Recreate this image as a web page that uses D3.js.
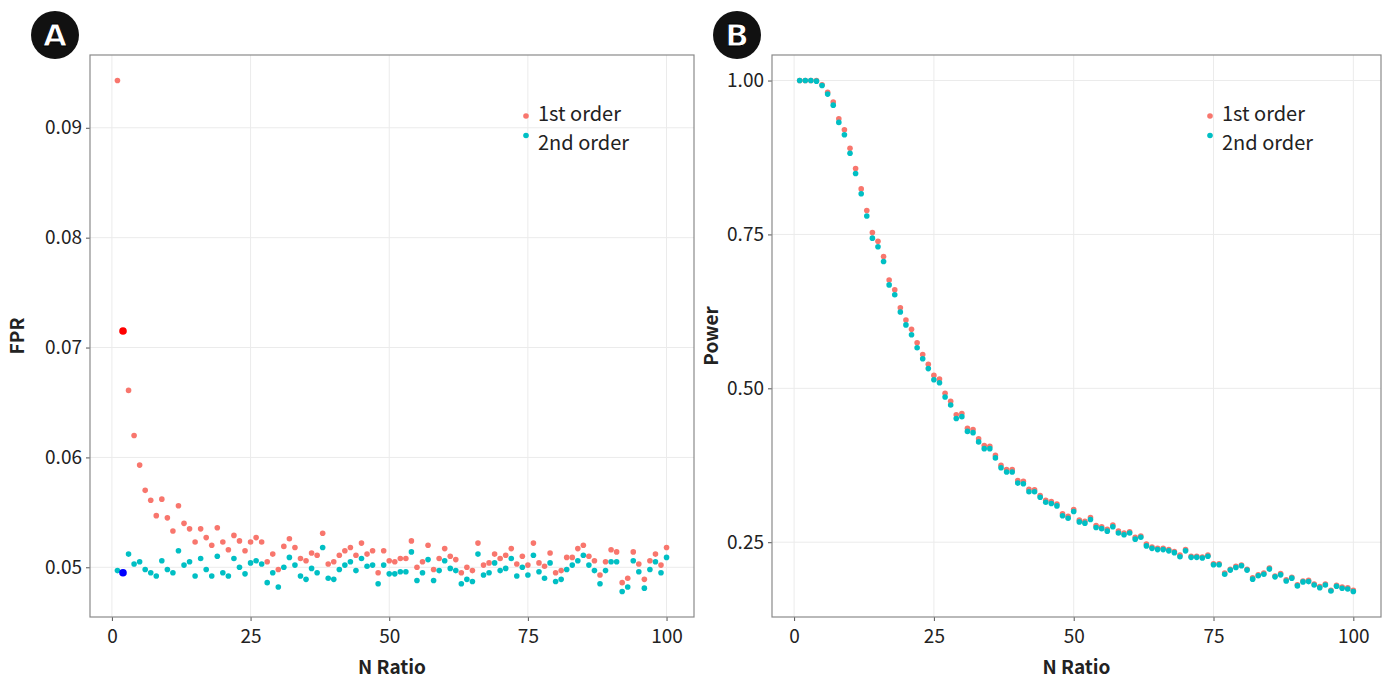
<html>
<head>
  <script src="https://d3js.org/d3.v7.min.js"></script>
  <style>
    body { margin: 0; background: #fff; }
    text { font-family: "Noto Sans CJK KR", "Noto Sans", sans-serif; }
    .grid line { stroke: #ebebeb; stroke-width: 1; }
    .axis path { display: none; }
    .axis line { stroke: #555; }
    .axis text { fill: #222; font-size: 19px; }
    .title { font-size: 19px; font-weight: 700; fill: #222; }
    .legend { font-size: 20px; fill: #222; }
  </style>
</head>
<body>
  <svg id="chart" width="1386" height="681"></svg>
  <script>
    const ratio = d3.range(1, 101);

    const fprFirst = [0.0943, 0.0715, 0.0661, 0.0620, 0.0593, 0.0570, 0.0561, 0.0547, 0.0562, 0.0545,
      0.0533, 0.0556, 0.0540, 0.0535, 0.0523, 0.0535, 0.0527, 0.0520, 0.0536, 0.0523,
      0.0516, 0.0529, 0.0524, 0.0515, 0.0523, 0.0527, 0.0523, 0.0505, 0.0512, 0.0498,
      0.0519, 0.0526, 0.0518, 0.0508, 0.0506, 0.0513, 0.0511, 0.0531, 0.0503, 0.0505,
      0.0511, 0.0515, 0.0518, 0.0511, 0.0522, 0.0512, 0.0515, 0.0495, 0.0515, 0.0506,
      0.0505, 0.0508, 0.0508, 0.0524, 0.0500, 0.0505, 0.0520, 0.0498, 0.0508, 0.0517,
      0.0510, 0.0507, 0.0495, 0.0500, 0.0497, 0.0522, 0.0502, 0.0504, 0.0512, 0.0508,
      0.0511, 0.0517, 0.0503, 0.0510, 0.0502, 0.0522, 0.0504, 0.0501, 0.0513, 0.0495,
      0.0497, 0.0509, 0.0509, 0.0517, 0.0520, 0.0510, 0.0506, 0.0493, 0.0505, 0.0516,
      0.0514, 0.0486, 0.0490, 0.0514, 0.0503, 0.0489, 0.0506, 0.0512, 0.0502, 0.0518];

    const fprSecond = [0.0497, 0.0495, 0.0512, 0.0503, 0.0505, 0.0498, 0.0495, 0.0492, 0.0506, 0.0498,
      0.0495, 0.0515, 0.0502, 0.0505, 0.0492, 0.0508, 0.0498, 0.0492, 0.0510, 0.0495,
      0.0492, 0.0508, 0.0500, 0.0494, 0.0504, 0.0506, 0.0503, 0.0486, 0.0495, 0.0482,
      0.0500, 0.0509, 0.0502, 0.0492, 0.0489, 0.0499, 0.0495, 0.0518, 0.0490, 0.0489,
      0.0498, 0.0502, 0.0505, 0.0497, 0.0508, 0.0501, 0.0502, 0.0485, 0.0502, 0.0494,
      0.0494, 0.0496, 0.0496, 0.0514, 0.0488, 0.0495, 0.0507, 0.0488, 0.0497, 0.0506,
      0.0499, 0.0497, 0.0485, 0.0489, 0.0487, 0.0512, 0.0493, 0.0495, 0.0504, 0.0497,
      0.0499, 0.0508, 0.0492, 0.0500, 0.0493, 0.0511, 0.0496, 0.0490, 0.0504, 0.0487,
      0.0489, 0.0498, 0.0502, 0.0506, 0.0511, 0.0502, 0.0497, 0.0485, 0.0497, 0.0505,
      0.0505, 0.0478, 0.0482, 0.0506, 0.0496, 0.0481, 0.0498, 0.0505, 0.0495, 0.0509];

    const powerFirst = [1.000, 1.000, 1.000, 1.000, 0.993, 0.981, 0.965, 0.938, 0.920, 0.890,
      0.857, 0.824, 0.789, 0.753, 0.739, 0.714, 0.676, 0.660, 0.631, 0.611,
      0.596, 0.574, 0.555, 0.539, 0.521, 0.515, 0.492, 0.479, 0.457, 0.459,
      0.435, 0.433, 0.418, 0.407, 0.406, 0.391, 0.375, 0.368, 0.368, 0.350,
      0.349, 0.336, 0.335, 0.326, 0.318, 0.316, 0.312, 0.296, 0.292, 0.303,
      0.286, 0.284, 0.290, 0.277, 0.275, 0.271, 0.278, 0.268, 0.265, 0.267,
      0.258, 0.260, 0.247, 0.242, 0.240, 0.240, 0.238, 0.235, 0.229, 0.238,
      0.227, 0.227, 0.226, 0.229, 0.215, 0.215, 0.200, 0.206, 0.211, 0.213,
      0.206, 0.192, 0.197, 0.200, 0.208, 0.195, 0.199, 0.189, 0.193, 0.181,
      0.187, 0.188, 0.182, 0.178, 0.182, 0.172, 0.180, 0.177, 0.176, 0.172];

    const powerSecond = [1.000, 1.000, 1.000, 0.999, 0.992, 0.978, 0.960, 0.932, 0.912, 0.882,
      0.849, 0.816, 0.780, 0.744, 0.730, 0.706, 0.668, 0.652, 0.624, 0.603,
      0.587, 0.566, 0.548, 0.532, 0.514, 0.509, 0.486, 0.473, 0.451, 0.454,
      0.430, 0.428, 0.413, 0.402, 0.402, 0.387, 0.371, 0.364, 0.364, 0.346,
      0.345, 0.332, 0.332, 0.323, 0.315, 0.313, 0.309, 0.293, 0.289, 0.300,
      0.283, 0.281, 0.287, 0.274, 0.272, 0.268, 0.275, 0.265, 0.262, 0.265,
      0.255, 0.258, 0.244, 0.240, 0.238, 0.238, 0.236, 0.233, 0.2265, 0.236,
      0.2254, 0.2254, 0.2244, 0.2271, 0.2134, 0.2134, 0.198, 0.2047, 0.209, 0.2118,
      0.2047, 0.190, 0.1955, 0.198, 0.2063, 0.1937, 0.197, 0.187, 0.1916, 0.179,
      0.1855, 0.186, 0.1806, 0.176, 0.1806, 0.1707, 0.1784, 0.1751, 0.174, 0.170];

    // highlighted points on panel A (ratio 2)
    const highlight = [
      { x: 2, y: 0.0715, color: "#ff0000" },
      { x: 2, y: 0.0495, color: "#0000ff" }
    ];

    const seriesNames = ["1st order", "2nd order"];
    const seriesColors = ["#F8766D", "#00BFC4"];
    const xTicks = [0, 25, 50, 75, 100];
    const fprTicks = [0.05, 0.06, 0.07, 0.08, 0.09];
    const powerTicks = [0.25, 0.50, 0.75, 1.00];

    const svg = d3.select("svg#chart");

    // ggplot style 5% padding
    function padded(vals) {
      const e = d3.extent(vals);
      const p = (e[1] - e[0]) * 0.05;
      return [e[0] - p, e[1] + p];
    }

    function panel(opt) {
      const g = svg.append("g");
      const x = d3.scaleLinear().domain(padded(ratio)).range([opt.left, opt.right]);
      const y = d3.scaleLinear().domain(padded(opt.first.concat(opt.second))).range([opt.bottom, opt.top]);

      const grid = g.append("g").attr("class", "grid");
      grid.selectAll(".gx").data(xTicks).join("line")
        .attr("x1", d => x(d)).attr("x2", d => x(d))
        .attr("y1", opt.top).attr("y2", opt.bottom);
      grid.selectAll(".gy").data(opt.yTicks).join("line")
        .attr("class", "gy")
        .attr("x1", opt.left).attr("x2", opt.right)
        .attr("y1", d => y(d)).attr("y2", d => y(d));

      g.append("g").attr("class", "axis")
        .attr("transform", "translate(0," + opt.bottom + ")")
        .call(d3.axisBottom(x).tickValues(xTicks).tickSize(4).tickPadding(5).tickFormat(d3.format("d")))
        .selectAll("text").attr("dy", "0.9em");

      g.append("g").attr("class", "axis")
        .attr("transform", "translate(" + opt.left + ",0)")
        .call(d3.axisLeft(y).tickValues(opt.yTicks).tickSize(4).tickPadding(4).tickFormat(d3.format(".2f")));

      [opt.first, opt.second].forEach((vals, i) => {
        g.append("g").selectAll("circle")
          .data(ratio)
          .join("circle")
          .attr("cx", d => x(d))
          .attr("cy", (d, j) => y(vals[j]))
          .attr("r", 2.8)
          .attr("fill", seriesColors[i]);
      });

      if (opt.extra) {
        g.append("g").selectAll("circle")
          .data(opt.extra)
          .join("circle")
          .attr("cx", d => x(d.x))
          .attr("cy", d => y(d.y))
          .attr("r", 3.8)
          .attr("fill", d => d.color);
      }

      g.append("rect")
        .attr("x", opt.left).attr("y", opt.top)
        .attr("width", opt.right - opt.left).attr("height", opt.bottom - opt.top)
        .attr("fill", "none").attr("stroke", "#8a8a8a").attr("stroke-width", 1.2);

      g.append("text").attr("class", "title")
        .attr("x", (opt.left + opt.right) / 2).attr("y", 674)
        .attr("text-anchor", "middle").text("N Ratio");

      g.append("text").attr("class", "title")
        .attr("transform", "translate(" + opt.yTitleX + "," + ((opt.top + opt.bottom) / 2) + ") rotate(-90)")
        .attr("text-anchor", "middle").text(opt.yTitle);

      // legend
      const leg = g.append("g");
      leg.selectAll("circle").data(seriesNames).join("circle")
        .attr("cx", opt.legX).attr("cy", (d, i) => 116 + i * 19.5)
        .attr("r", 2.8).attr("fill", (d, i) => seriesColors[i]);
      leg.selectAll("text").data(seriesNames).join("text")
        .attr("class", "legend")
        .attr("x", opt.legX + 12).attr("y", (d, i) => 121 + i * 29)
        .text(d => d);

      // panel badge
      svg.append("circle").attr("cx", opt.badgeX).attr("cy", 35).attr("r", 24).attr("fill", "#111");
      svg.append("text")
        .attr("x", opt.badgeX).attr("y", 46)
        .attr("text-anchor", "middle")
        .style("font-family", "'DejaVu Sans', sans-serif")
        .style("font-size", "31px").style("font-weight", "700")
        .attr("fill", "#fff").attr("stroke", "#000").attr("stroke-width", 1)
        .text(opt.badge);
    }

    panel({ left: 90, right: 694, top: 55, bottom: 617, first: fprFirst, second: fprSecond,
      yTicks: fprTicks, yTitle: "FPR", yTitleX: 24, legX: 526, badge: "A", badgeX: 55, extra: highlight });

    panel({ left: 772, right: 1381, top: 55, bottom: 617, first: powerFirst, second: powerSecond,
      yTicks: powerTicks, yTitle: "Power", yTitleX: 718, legX: 1210, badge: "B", badgeX: 737 });
  </script>
</body>
</html>
